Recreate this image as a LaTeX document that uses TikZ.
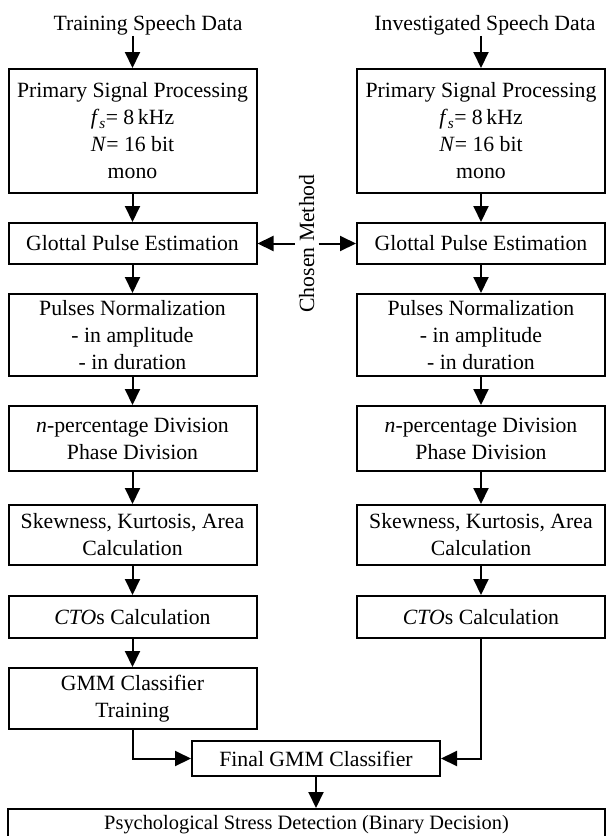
\documentclass[tikz,border=0pt]{standalone}
\usepackage{fontspec}
\setmainfont{Liberation Serif}
\usetikzlibrary{positioning,arrows.meta,calc}

\begin{document}
\begin{tikzpicture}[->,>={Triangle[length=16pt,width=15pt]},line width=2pt,
    node distance=28pt,every node/.style={font=\fontsize{21.75}{27}\selectfont},
    box/.style={draw=black,rectangle,minimum width=248pt,align=center,inner sep=5pt}]
  \useasboundingbox (0,0) rectangle (606pt,-836pt);
        \node[inner sep=0pt] (trL) at (148pt,-25pt) {Training Speech Data};
        \node[inner sep=0pt] (trR) at (485pt,-25pt) {Investigated Speech Data};
        \node[box,minimum height=124pt] (prL) at (132.5pt,-131pt) {Primary Signal Processing\\ \textit{f}\textsubscript{\textit{s}}= 8\,kHz\\ \textit{N}= 16 bit\\ mono};
        \node[box,minimum height=41pt,below=of prL] (glL) {Glottal Pulse Estimation};
        \node[box,minimum height=82pt,below=of glL] (pnL) {Pulses Normalization\\ - in amplitude\\ - in duration};
        \node[box,minimum height=65pt,below=of pnL] (ndL) {\textit{n}-percentage Division\\ Phase Division};
        \node[box,minimum height=60pt,below=32pt of ndL] (skL) {Skewness, Kurtosis, Area\\ Calculation};
        \node[box,minimum height=42pt,below=29pt of skL] (ctL) {\textit{CTO}s Calculation};
        \node[box,minimum height=61pt,below=of ctL] (gmL) {GMM Classifier\\ Training};
        \node[box,minimum height=124pt] (prR) at (481pt,-131pt) {Primary Signal Processing\\ \textit{f}\textsubscript{\textit{s}}= 8\,kHz\\ \textit{N}= 16 bit\\ mono};
        \node[box,minimum height=41pt,below=of prR] (glR) {Glottal Pulse Estimation};
        \node[box,minimum height=82pt,below=of glR] (pnR) {Pulses Normalization\\ - in amplitude\\ - in duration};
        \node[box,minimum height=65pt,below=of pnR] (ndR) {\textit{n}-percentage Division\\ Phase Division};
        \node[box,minimum height=60pt,below=32pt of ndR] (skR) {Skewness, Kurtosis, Area\\ Calculation};
        \node[box,minimum height=42pt,below=29pt of skR] (ctR) {\textit{CTO}s Calculation};
        \node[rotate=90] (cm) at ($(glL.east)!0.5!(glR.west)$) {Chosen Method};
        \node[box,minimum height=35pt] (fin) at (316pt,-758.5pt) {Final GMM Classifier};
        \node[box,minimum width=597pt,minimum height=31pt,below=31pt of fin,xshift=-9.5pt,
          font=\fontsize{20.4}{27}\selectfont] (psy) {Psychological Stress Detection (Binary Decision)};

        \draw (prL.north |- trL.south) -- (prL.north);
        \draw (prR.north |- trR.south) -- (prR.north);
        \foreach \a/\b in {prL/glL,glL/pnL,pnL/ndL,ndL/skL,skL/ctL,ctL/gmL,prR/glR,glR/pnR,pnR/ndR,ndR/skR,skR/ctR}
          \draw (\a) -- (\b);
        \draw (cm.north) -- (glL.east);
        \draw (cm.south) -- (glR.west);
        \draw (gmL.south) |- (fin.west);
        \draw (ctR.south) |- (fin.east);
        \draw (fin.south) -- (fin.south |- psy.north);
  \end{tikzpicture}
\end{document}
